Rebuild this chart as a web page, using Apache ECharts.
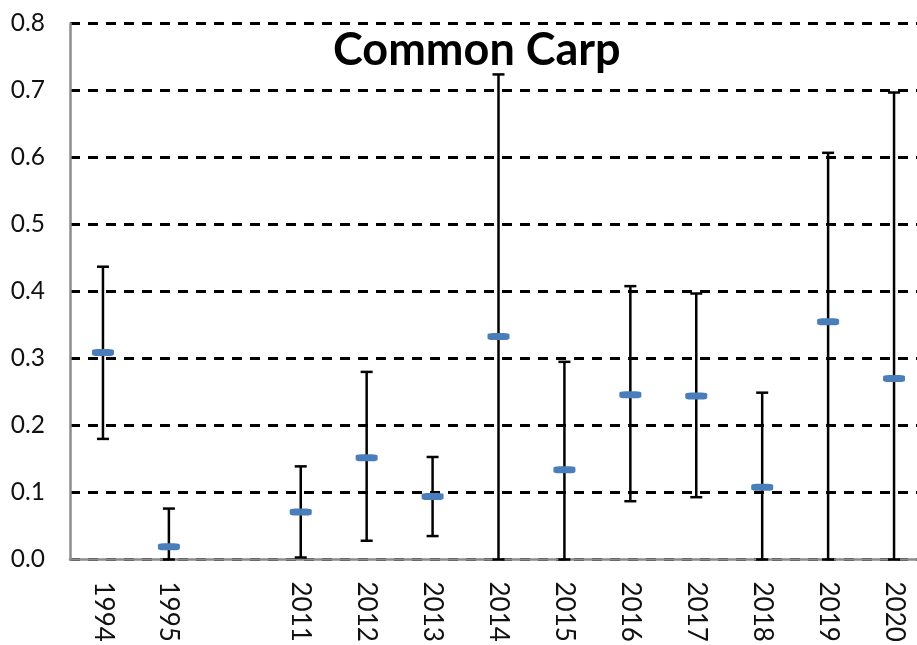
<!DOCTYPE html>
<html>
<head>
<meta charset="utf-8">
<title>Common Carp</title>
<script src="https://cdn.jsdelivr.net/npm/echarts@6/dist/echarts.min.js"></script>
<style>
  html, body { margin: 0; padding: 0; background: #ffffff; }
  #chart { width: 917px; height: 645px; }
</style>
</head>
<body>
<div id="chart"></div>
<script>
// Survey years (blank slot separates the 1990s samples from 2011 onward)
const categories = ['1994', '1995', '', '2011', '2012', '2013', '2014', '2015', '2016', '2017', '2018', '2019', '2020'];

// Mean value per year
const means = [0.309, 0.019, null, 0.071, 0.152, 0.094, 0.333, 0.134, 0.246, 0.244, 0.108, 0.355, 0.270];

// Lower and upper ends of the error bars
const lower = [0.180, 0.000, null, 0.003, 0.028, 0.035, 0.000, 0.000, 0.087, 0.093, 0.000, 0.000, 0.000];
const upper = [0.437, 0.076, null, 0.139, 0.280, 0.153, 0.724, 0.295, 0.408, 0.397, 0.249, 0.607, 0.697];

// Value-axis ticks
const yTicks = { min: 0, max: 0.8, interval: 0.1 };

const FONT = 'Lato, "Noto Sans", sans-serif';

const errorData = [];
categories.forEach((c, i) => {
  if (lower[i] != null && upper[i] != null) errorData.push([i, lower[i], upper[i]]);
});

const chart = echarts.init(document.getElementById('chart'), null, { renderer: 'canvas' });

chart.setOption({
  animation: false,
  backgroundColor: '#ffffff',
  title: {
    text: 'Common Carp',
    left: 333,
    top: 28,
    padding: 0,
    textStyle: {
      fontFamily: FONT,
      fontSize: 45,
      fontWeight: 'bold',
      color: '#000000'
    }
  },
  grid: {
    left: 70,
    right: -10,
    top: 23.5,
    bottom: 85.5,
    containLabel: false,
    outerBoundsMode: 'none'
  },
  xAxis: {
    type: 'category',
    data: categories,
    boundaryGap: true,
    axisLine: { show: true, lineStyle: { color: '#8c8c8c', width: 2.5 } },
    axisTick: { show: false },
    splitLine: { show: false },
    axisLabel: {
      interval: 0,
      rotate: -90,
      margin: 22,
      fontFamily: FONT,
      fontSize: 26,
      color: '#111111'
    }
  },
  yAxis: {
    type: 'value',
    min: yTicks.min,
    max: yTicks.max,
    interval: yTicks.interval,
    axisLine: { show: true, lineStyle: { color: '#8c8c8c', width: 2.5 } },
    axisTick: { show: false },
    splitLine: {
      show: true,
      lineStyle: { color: '#000000', width: 3, type: [10, 8] }
    },
    axisLabel: {
      margin: 25,
      fontFamily: FONT,
      fontSize: 24.5,
      color: '#111111',
      formatter: v => v.toFixed(1)
    }
  },
  series: [
    {
      name: 'Range',
      type: 'custom',
      z: 3,
      data: errorData,
      renderItem: function (params, api) {
        const x = api.value(0);
        const top = api.coord([x, api.value(2)]);
        const bot = api.coord([x, api.value(1)]);
        const hw = 6;
        const style = { stroke: '#000000', lineWidth: 2.5 };
        return {
          type: 'group',
          children: [
            { type: 'line', shape: { x1: top[0], y1: top[1], x2: bot[0], y2: bot[1] }, style: style },
            { type: 'line', shape: { x1: top[0] - hw, y1: top[1], x2: top[0] + hw, y2: top[1] }, style: style },
            { type: 'line', shape: { x1: bot[0] - hw, y1: bot[1], x2: bot[0] + hw, y2: bot[1] }, style: style }
          ]
        };
      }
    },
    {
      name: 'Mean',
      type: 'scatter',
      z: 4,
      symbol: 'roundRect',
      symbolSize: [22, 7],
      itemStyle: { color: '#4a7ebb', opacity: 1 },
      data: means
    }
  ]
});
</script>
</body>
</html>
